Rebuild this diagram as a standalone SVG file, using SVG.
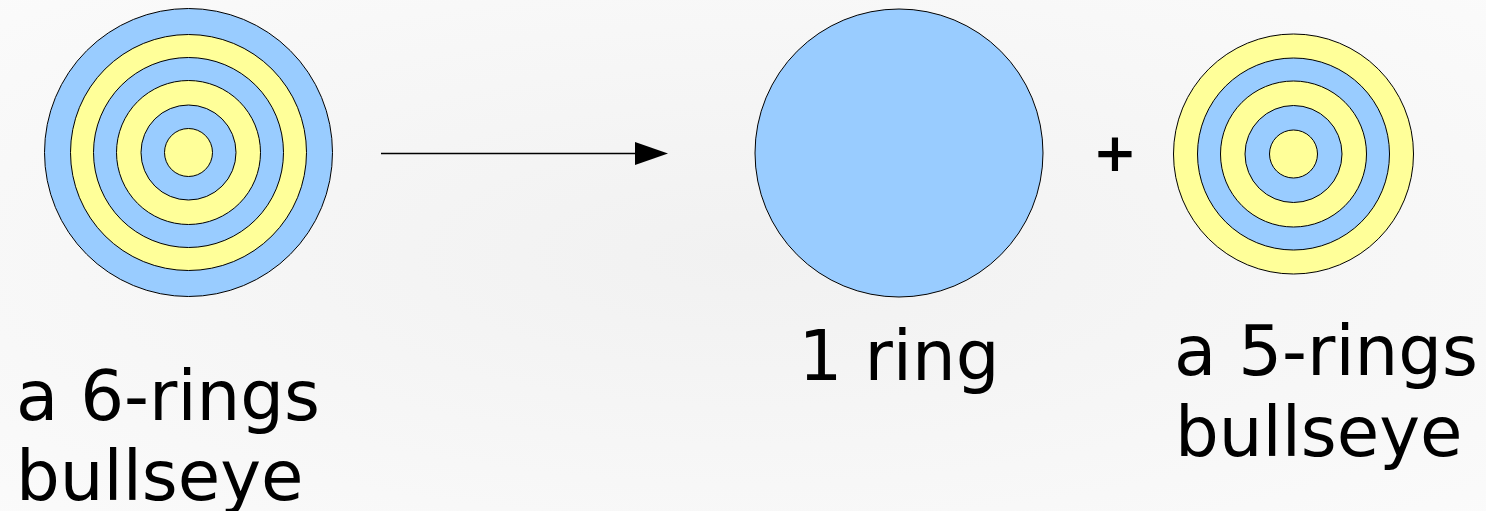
<svg xmlns="http://www.w3.org/2000/svg" width="1486" height="511" viewBox="0 0 1486 511">
<style>
.b{fill:#99ccff;stroke:#000;stroke-width:1}
.y{fill:#ffff99;stroke:#000;stroke-width:1}
.t{font-family:"DejaVu Sans",sans-serif;font-size:69px;fill:#000}
.p{font-family:"DejaVu Sans",sans-serif;font-size:53px;font-weight:bold;fill:#000}
</style>
<defs>
<radialGradient id="bg" cx="50%" cy="50%" r="75%">
<stop offset="0" stop-color="#f1f1f1"/>
<stop offset="1" stop-color="#fbfbfb"/>
</radialGradient>
<marker id="ah" markerUnits="userSpaceOnUse" markerWidth="34" markerHeight="24" refX="0" refY="11.5" orient="auto">
<path d="M0,0 L33,11.5 L0,23 Z" fill="#000"/>
</marker>
</defs>
<rect width="1486" height="511" fill="url(#bg)"/>
<g id="bullseye6">
<circle class="b" cx="188.5" cy="152.5" r="144"/>
<circle class="y" cx="188.5" cy="152.5" r="118"/>
<circle class="b" cx="188.5" cy="152.5" r="95"/>
<circle class="y" cx="188.5" cy="152.5" r="72"/>
<circle class="b" cx="188.5" cy="152.5" r="47.5"/>
<circle class="y" cx="188.5" cy="152.5" r="24"/>
<text class="t" x="16" y="420">a 6-rings</text>
<text class="t" x="16" y="500">bullseye</text>
</g>
<g id="ring1">
<circle class="b" cx="899" cy="153" r="144"/>
<text class="t" x="899" y="380" text-anchor="middle">1 ring</text>
</g>
<g id="plus">
<text class="p" x="1115" y="171" text-anchor="middle">+</text>
</g>
<g id="bullseye5">
<circle class="y" cx="1293.5" cy="154" r="120"/>
<circle class="b" cx="1293.5" cy="154" r="96"/>
<circle class="y" cx="1293.5" cy="154" r="73"/>
<circle class="b" cx="1293.5" cy="154" r="48.5"/>
<circle class="y" cx="1293.5" cy="154" r="24"/>
<text class="t" x="1174" y="375">a 5-rings</text>
<text class="t" x="1175" y="456">bullseye</text>
</g>
<g id="connectors">
<line x1="381" y1="153.5" x2="635" y2="153.5" stroke="#000" stroke-width="1.5" marker-end="url(#ah)"/>
</g>
</svg>
